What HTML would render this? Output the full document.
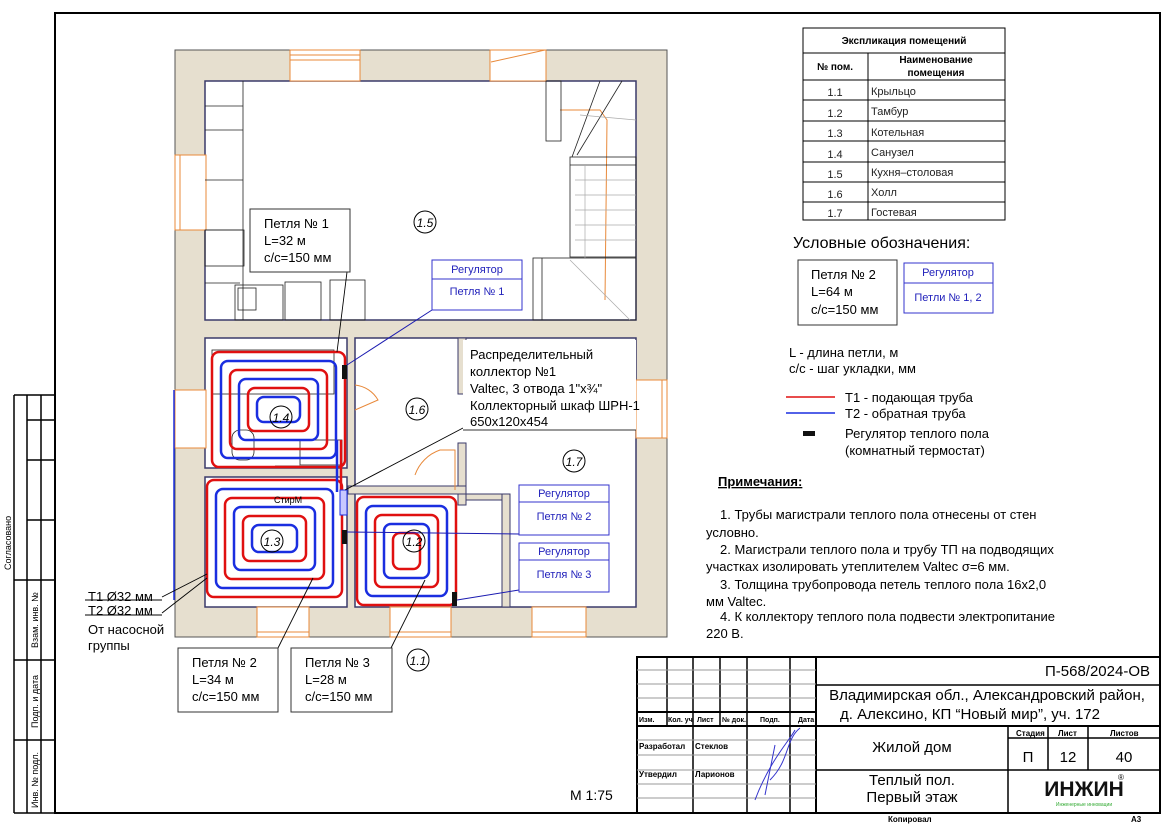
<!DOCTYPE html>
<html><head><meta charset="utf-8"><style>
html,body{margin:0;padding:0;background:#fff}
svg{display:block}
text{font-family:"Liberation Sans",sans-serif}
</style></head><body>
<svg width="1166" height="824" viewBox="0 0 1166 824" xmlns="http://www.w3.org/2000/svg">
<rect x="55" y="13" width="1105" height="800" fill="none" stroke="#000" stroke-width="2"/>
<g stroke="#000" stroke-width="1.5" fill="none">
<line x1="14" y1="395" x2="55" y2="395"/>
<line x1="14" y1="395" x2="14" y2="813"/>
<line x1="14" y1="813" x2="55" y2="813"/>
<line x1="27" y1="395" x2="27" y2="813"/>
<line x1="41" y1="395" x2="41" y2="813"/>
<line x1="27" y1="420" x2="55" y2="420"/>
<line x1="27" y1="460" x2="55" y2="460"/>
<line x1="27" y1="520" x2="55" y2="520"/>
<line x1="14" y1="580" x2="55" y2="580"/>
<line x1="14" y1="660" x2="55" y2="660"/>
<line x1="14" y1="740" x2="55" y2="740"/>
</g>
<g font-size="9" fill="#000">
<text transform="translate(11,570) rotate(-90)">Согласовано</text>
<text transform="translate(38,648) rotate(-90)">Взам. инв. №</text>
<text transform="translate(38,728) rotate(-90)">Подп. и дата</text>
<text transform="translate(38,808) rotate(-90)">Инв. № подл.</text>
</g>

<rect x="175" y="50" width="492" height="587" fill="#e6dfcf" stroke="#555" stroke-width="1"/>
<g fill="#fff" stroke="#3a3a6a" stroke-width="1.5">
<rect x="205" y="81" width="431" height="239"/>
<rect x="205" y="338" width="142" height="130"/>
<rect x="205" y="477" width="142" height="130"/>
<rect x="355" y="338" width="281" height="269"/>
</g>
<g fill="#e6dfcf" stroke="#3a3a6a" stroke-width="1">
<rect x="458" y="338" width="8" height="56"/>
<rect x="458" y="443" width="8" height="62"/>
<rect x="348" y="486" width="118" height="8"/>
<rect x="502" y="494" width="8" height="113"/>
<rect x="466" y="494" width="36" height="6"/>
</g>
<g fill="#fff" stroke="#e8893a" stroke-width="1">
<rect x="290" y="50" width="70" height="31"/>
<rect x="175" y="155" width="31" height="75"/>
<rect x="175" y="390" width="31" height="58"/>
<rect x="636" y="380" width="31" height="58"/>
<rect x="257" y="607" width="52" height="30"/>
<rect x="390" y="607" width="61" height="30"/>
<rect x="532" y="607" width="54" height="30"/>
<rect x="490" y="50" width="56" height="31"/>
</g>
<g stroke="#e8893a" fill="none" stroke-width="1">
<line x1="290" y1="55" x2="360" y2="55"/><line x1="290" y1="60" x2="360" y2="60"/>
<line x1="180" y1="155" x2="180" y2="230"/>
<line x1="257" y1="632" x2="309" y2="632"/><line x1="390" y1="632" x2="451" y2="632"/>
<line x1="532" y1="632" x2="586" y2="632"/><line x1="662" y1="380" x2="662" y2="438"/>
<line x1="491" y1="62" x2="545" y2="50"/>
<path d="M355 385 A30 30 0 0 1 378 400 L355 410"/>
<path d="M415 475 A40 40 0 0 1 440 450 L455 450 L455 490"/>
<path d="M560 110 L600 110 L607 120 L605 300"/>
</g>
<g stroke="#222" fill="none" stroke-width="0.8">
<line x1="243" y1="81" x2="243" y2="320"/>
<line x1="205" y1="106" x2="243" y2="106"/><line x1="205" y1="130" x2="243" y2="130"/>
<line x1="205" y1="180" x2="243" y2="180"/><line x1="205" y1="230" x2="243" y2="230"/>
<rect x="205" y="230" width="39" height="36"/>
<line x1="205" y1="283" x2="240" y2="283"/>
<rect x="235" y="285" width="48" height="35"/><rect x="238" y="288" width="18" height="22"/>
<rect x="285" y="282" width="36" height="38"/><rect x="330" y="280" width="35" height="40"/>
<rect x="546" y="81" width="15" height="60"/>
<rect x="570" y="157" width="66" height="100"/>
<line x1="570" y1="165" x2="636" y2="165"/>
<rect x="533" y="258" width="103" height="62"/>
<line x1="542" y1="258" x2="542" y2="320"/>
<line x1="600" y1="81" x2="572" y2="157"/><line x1="622" y1="81" x2="577" y2="155"/>
</g>
<g stroke="#aaa" stroke-width="0.7">
<line x1="575" y1="180" x2="636" y2="180"/><line x1="575" y1="195" x2="636" y2="195"/>
<line x1="575" y1="210" x2="636" y2="210"/><line x1="575" y1="225" x2="636" y2="225"/>
<line x1="575" y1="240" x2="636" y2="240"/><line x1="585" y1="165" x2="585" y2="258"/>
<line x1="570" y1="260" x2="630" y2="320"/><line x1="580" y1="115" x2="636" y2="120"/>
</g>
<g stroke="#222" fill="none" stroke-width="0.8">
<rect x="212" y="350" width="122" height="44"/>
<rect x="232" y="430" width="22" height="30" rx="8"/>
<rect x="300" y="440" width="42" height="25"/>
<line x1="275" y1="466" x2="300" y2="466"/>
</g>
<g fill="none" stroke-width="2.5">
<rect x="212" y="352" width="133" height="115" rx="7" stroke="#e01010"/>
<rect x="221" y="361" width="115" height="97" rx="7" stroke="#1a2ee0"/>
<rect x="230" y="370" width="97" height="79" rx="7" stroke="#e01010"/>
<rect x="239" y="379" width="79" height="61" rx="7" stroke="#1a2ee0"/>
<rect x="248" y="388" width="61" height="43" rx="7" stroke="#e01010"/>
<rect x="257" y="397" width="43" height="25" rx="7" stroke="#1a2ee0"/>
<rect x="207" y="480" width="135" height="117" rx="7" stroke="#e01010"/>
<rect x="216" y="489" width="117" height="99" rx="7" stroke="#1a2ee0"/>
<rect x="225" y="498" width="99" height="81" rx="7" stroke="#e01010"/>
<rect x="234" y="507" width="81" height="63" rx="7" stroke="#1a2ee0"/>
<rect x="243" y="516" width="63" height="45" rx="7" stroke="#e01010"/>
<rect x="252" y="525" width="45" height="27" rx="7" stroke="#1a2ee0"/>
<rect x="357" y="497" width="99" height="108" rx="7" stroke="#e01010"/>
<rect x="366" y="506" width="81" height="90" rx="7" stroke="#1a2ee0"/>
<rect x="375" y="515" width="63" height="72" rx="7" stroke="#e01010"/>
<rect x="384" y="524" width="45" height="54" rx="7" stroke="#1a2ee0"/>
<rect x="393" y="533" width="27" height="36" rx="7" stroke="#e01010"/>
<line x1="341" y1="440" x2="341" y2="492" stroke="#e01010"/>
<line x1="337" y1="440" x2="337" y2="492" stroke="#1a2ee0"/>
<line x1="174" y1="390" x2="174" y2="600" stroke="#1a2ee0" stroke-width="1.5"/>
</g>
<rect x="340" y="490" width="7" height="25" fill="#c8c8ff" stroke="#1a2ee0"/>
<text x="274" y="503" font-size="9">СтирМ</text>
<g fill="#111">
<rect x="342" y="365" width="5" height="14"/>
<rect x="342" y="530" width="5" height="14"/>
<rect x="452" y="592" width="5" height="14"/>
</g>
<g stroke="#1a1ab0" stroke-width="1">
<line x1="347" y1="365" x2="432" y2="310"/>
<line x1="347" y1="532" x2="519" y2="534"/>
<line x1="457" y1="600" x2="519" y2="590"/>
</g>
<g stroke="#000" stroke-width="0.9">
<line x1="347" y1="272" x2="337" y2="352"/>
<line x1="463" y1="428" x2="345" y2="490"/>
<line x1="278" y1="648" x2="313" y2="578"/>
<line x1="391" y1="648" x2="425" y2="580"/>
<line x1="162" y1="597" x2="207" y2="574"/>
<line x1="162" y1="613" x2="207" y2="578"/>
<line x1="85" y1="600" x2="162" y2="600"/><line x1="85" y1="615" x2="162" y2="615"/>
</g>
<g fill="none" stroke="#000" stroke-width="1">
<circle cx="425" cy="222" r="11"/><circle cx="281" cy="417" r="11"/>
<circle cx="417" cy="409" r="11"/><circle cx="574" cy="461" r="11"/>
<circle cx="272" cy="541" r="11"/><circle cx="414" cy="541" r="11"/>
<circle cx="418" cy="660" r="11"/>
</g>
<g font-size="12" font-style="italic" text-anchor="middle">
<text x="425" y="227">1.5</text><text x="281" y="422">1.4</text>
<text x="417" y="414">1.6</text><text x="574" y="466">1.7</text>
<text x="272" y="546">1.3</text><text x="414" y="546">1.2</text>
<text x="418" y="665">1.1</text>
</g>
<g fill="#fff" stroke="#333" stroke-width="1">
<rect x="250" y="209" width="100" height="63"/>
<rect x="178" y="648" width="100" height="64"/>
<rect x="291" y="648" width="101" height="64"/>
</g>
<g font-size="13">
<text x="264" y="228">Петля № 1</text><text x="264" y="245">L=32 м</text><text x="264" y="262">с/с=150 мм</text>
<text x="192" y="667">Петля № 2</text><text x="192" y="684">L=34 м</text><text x="192" y="701">с/с=150 мм</text>
<text x="305" y="667">Петля № 3</text><text x="305" y="684">L=28 м</text><text x="305" y="701">с/с=150 мм</text>
<text x="88" y="601">Т1 Ø32 мм</text><text x="88" y="615">Т2 Ø32 мм</text>
<text x="88" y="634">От насосной</text><text x="88" y="650">группы</text>
</g>
<rect x="463" y="340" width="173" height="90" fill="#fff"/>
<line x1="463" y1="430" x2="636" y2="430" stroke="#333"/>
<g font-size="13">
<text x="470" y="359">Распределительный</text>
<text x="470" y="376">коллектор №1</text>
<text x="470" y="393">Valtec, 3 отвода 1"х¾"</text>
<text x="470" y="410">Коллекторный шкаф ШРН-1</text>
<text x="470" y="426">650х120х454</text>
</g>
<g fill="#fff" stroke="#3333cc" stroke-width="1">
<rect x="432" y="260" width="90" height="50"/><line x1="432" y1="279" x2="522" y2="279"/>
<rect x="519" y="485" width="90" height="50"/><line x1="519" y1="502" x2="609" y2="502"/>
<rect x="519" y="543" width="90" height="49"/><line x1="519" y1="560" x2="609" y2="560"/>
<rect x="904" y="263" width="89" height="50"/><line x1="904" y1="283" x2="993" y2="283"/>
</g>
<g font-size="11" fill="#2222bb" text-anchor="middle">
<text x="477" y="273">Регулятор</text><text x="477" y="295">Петля № 1</text>
<text x="564" y="497">Регулятор</text><text x="564" y="520">Петля № 2</text>
<text x="564" y="555">Регулятор</text><text x="564" y="578">Петля № 3</text>
<text x="948" y="276">Регулятор</text><text x="948" y="301">Петли № 1, 2</text>
</g>

<g stroke="#000" stroke-width="1" fill="none">
<rect x="803" y="28" width="202" height="192"/>
<line x1="803" y1="53" x2="1005" y2="53"/><line x1="803" y1="80" x2="1005" y2="80"/>
<line x1="803" y1="100" x2="1005" y2="100"/><line x1="803" y1="121" x2="1005" y2="121"/>
<line x1="803" y1="141" x2="1005" y2="141"/><line x1="803" y1="162" x2="1005" y2="162"/>
<line x1="803" y1="182" x2="1005" y2="182"/><line x1="803" y1="202" x2="1005" y2="202"/>
<line x1="868" y1="53" x2="868" y2="220"/>
</g>
<g font-size="10" font-weight="bold" text-anchor="middle">
<text x="904" y="44">Экспликация помещений</text>
<text x="835" y="70">№ пом.</text>
<text x="936" y="63">Наименование</text><text x="936" y="76">помещения</text>
</g>
<g font-size="11" fill="#222">
<g text-anchor="middle">
<text x="835" y="96">1.1</text><text x="835" y="117">1.2</text><text x="835" y="137">1.3</text>
<text x="835" y="158">1.4</text><text x="835" y="178">1.5</text><text x="835" y="198">1.6</text><text x="835" y="217">1.7</text>
</g>
<text x="871" y="95">Крыльцо</text><text x="871" y="115">Тамбур</text><text x="871" y="136">Котельная</text>
<text x="871" y="156">Санузел</text><text x="871" y="176">Кухня–столовая</text><text x="871" y="196">Холл</text><text x="871" y="216">Гостевая</text>
</g>
<text x="793" y="248" font-size="16">Условные обозначения:</text>
<rect x="798" y="260" width="99" height="65" fill="#fff" stroke="#333"/>
<g font-size="13">
<text x="811" y="279">Петля № 2</text><text x="811" y="296">L=64 м</text><text x="811" y="314">с/с=150 мм</text>
<text x="789" y="357">L - длина петли, м</text>
<text x="789" y="373">с/с - шаг укладки, мм</text>
<text x="845" y="402">Т1 - подающая труба</text>
<text x="845" y="418">Т2 - обратная труба</text>
<text x="845" y="438">Регулятор теплого пола</text>
<text x="845" y="455">(комнатный термостат)</text>
<text x="718" y="486" font-weight="bold" text-decoration="underline">Примечания:</text>
<text x="720" y="519">1.    Трубы магистрали теплого пола отнесены от стен</text>
<text x="706" y="537">условно.</text>
<text x="720" y="554">2.    Магистрали теплого пола и трубу ТП на подводящих</text>
<text x="706" y="571">участках изолировать утеплителем Valtec σ=6 мм.</text>
<text x="720" y="589">3.    Толщина трубопровода петель теплого пола 16х2,0</text>
<text x="706" y="606">мм Valtec.</text>
<text x="720" y="621">4.    К коллектору теплого пола подвести электропитание</text>
<text x="706" y="638">220 В.</text>
</g>
<line x1="786" y1="397" x2="835" y2="397" stroke="#e01010" stroke-width="1.5"/>
<line x1="786" y1="413" x2="835" y2="413" stroke="#1a2ee0" stroke-width="1.5"/>
<rect x="803" y="431" width="12" height="5" fill="#111"/>
<text x="570" y="800" font-size="14">М 1:75</text>

<g stroke="#000" stroke-width="1.5" fill="none">
<rect x="637" y="657" width="523" height="156" stroke-width="2"/>
<line x1="816" y1="657" x2="816" y2="813" stroke-width="2"/>
<line x1="816" y1="685" x2="1160" y2="685"/>
<line x1="637" y1="726" x2="1160" y2="726" stroke-width="2"/>
<line x1="816" y1="770" x2="1160" y2="770"/>
<line x1="1008" y1="726" x2="1008" y2="813"/>
<line x1="1048" y1="726" x2="1048" y2="770"/>
<line x1="1088" y1="726" x2="1088" y2="770"/>
<line x1="1008" y1="738" x2="1160" y2="738"/>
<line x1="667" y1="657" x2="667" y2="726"/><line x1="693" y1="657" x2="693" y2="813"/>
<line x1="720" y1="657" x2="720" y2="726"/><line x1="747" y1="657" x2="747" y2="813"/>
<line x1="790" y1="657" x2="790" y2="813"/>
<line x1="637" y1="712" x2="816" y2="712" stroke-width="2"/>
</g>
<g stroke="#999" stroke-width="1">
<line x1="637" y1="670" x2="816" y2="670"/><line x1="637" y1="684" x2="816" y2="684"/>
<line x1="637" y1="698" x2="816" y2="698"/><line x1="637" y1="740" x2="816" y2="740"/>
<line x1="637" y1="755" x2="816" y2="755"/><line x1="637" y1="770" x2="816" y2="770"/>
<line x1="637" y1="784" x2="816" y2="784"/><line x1="637" y1="798" x2="816" y2="798"/>
</g>
<g font-size="7" font-weight="bold">
<text x="639" y="722">Изм.</text><text x="668" y="722">Кол. уч</text><text x="697" y="722">Лист</text>
<text x="722" y="722">№ док.</text><text x="760" y="722">Подп.</text><text x="798" y="722">Дата</text>
</g>
<g font-size="8" font-weight="bold">
<text x="639" y="749">Разработал</text><text x="695" y="749">Стеклов</text>
<text x="639" y="777">Утвердил</text><text x="695" y="777">Ларионов</text>
<text x="1016" y="736">Стадия</text><text x="1058" y="736">Лист</text><text x="1110" y="736">Листов</text>
<text x="888" y="822">Копировал</text><text x="1131" y="822">А3</text>
</g>
<path d="M755 800 C770 760 790 740 795 730 M765 795 L775 745 M770 780 C790 760 785 740 800 728" stroke="#3333cc" fill="none"/>
<g font-size="15" text-anchor="middle">
<text x="1150" y="676" text-anchor="end">П-568/2024-ОВ</text>
<text x="987" y="700">Владимирская обл., Александровский район,</text>
<text x="970" y="719">д. Алексино, КП “Новый мир”, уч. 172</text>
<text x="912" y="752">Жилой дом</text>
<text x="1028" y="762">П</text><text x="1068" y="762">12</text><text x="1124" y="762">40</text>
<text x="912" y="785">Теплый пол.</text>
<text x="912" y="802">Первый этаж</text>
</g>
<text x="1084" y="796" font-size="21" font-weight="bold" text-anchor="middle" fill="#111">ИНЖИН</text>
<text x="1118" y="780" font-size="8">®</text>
<text x="1084" y="806" font-size="5" fill="#3a3" text-anchor="middle">Инженерные инновации</text>
</svg>
</body></html>
